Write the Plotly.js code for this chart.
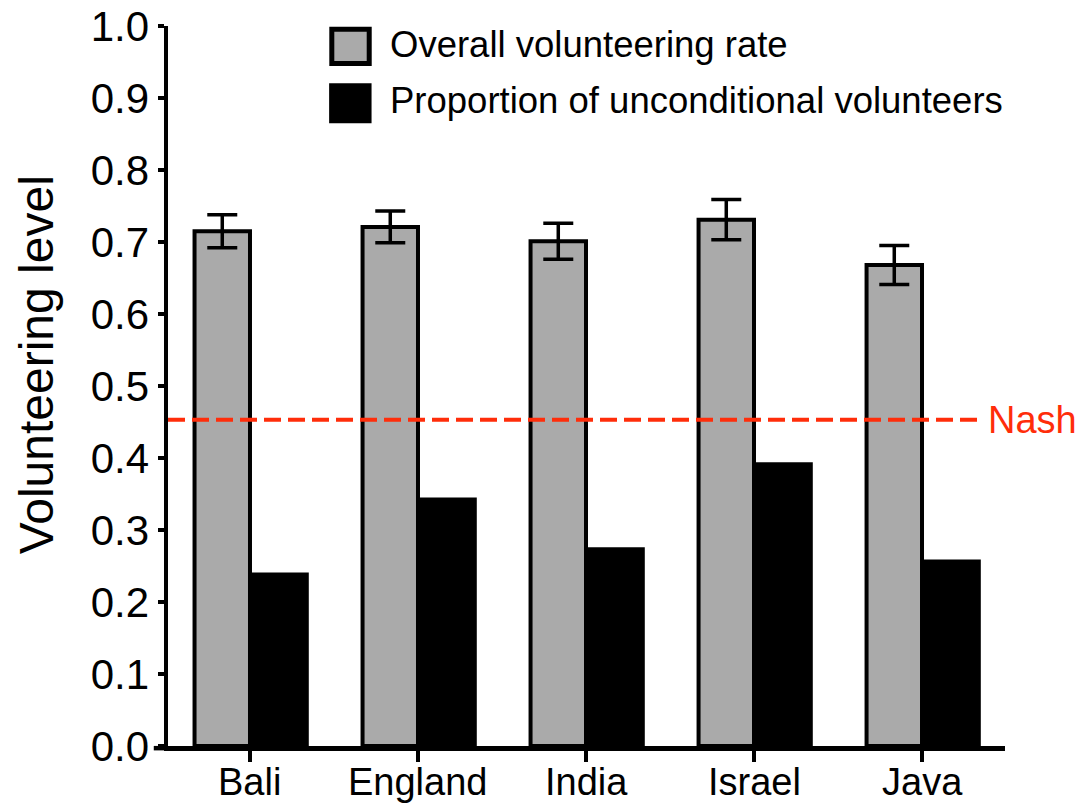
<!DOCTYPE html>
<html>
<head>
<meta charset="utf-8">
<script src="https://cdn.plot.ly/plotly-3.0.1.min.js"></script>
<style>
  html, body { margin: 0; padding: 0; background: #ffffff; }
  #chart { width: 1079px; height: 804px; }
</style>
</head>
<body>
<div id="chart"></div>
<script>
// Volunteering levels by site
const countries = ['Bali', 'England', 'India', 'Israel', 'Java'];
const overallRate = [0.715, 0.721, 0.701, 0.731, 0.668];
const overallErr = [0.023, 0.022, 0.025, 0.028, 0.027];
const unconditional = [0.241, 0.345, 0.276, 0.394, 0.259];
const nashLevel = 0.453;
const yTicks = [0, 0.1, 0.2, 0.3, 0.4, 0.5, 0.6, 0.7, 0.8, 0.9, 1.0];

const seriesNames = ['Overall volunteering rate', 'Proportion of unconditional volunteers'];
const FONT = 'Liberation Sans, Arial, Helvetica, sans-serif';
const NASH_COLOR = '#ff2d0a';

const traces = [
  {
    type: 'bar',
    name: seriesNames[0],
    x: countries,
    y: overallRate,
    offset: -0.33,
    width: 0.33,
    marker: { color: '#aaaaaa', line: { color: '#000000', width: 4 } },
    error_y: { type: 'data', array: overallErr, visible: true, color: '#000000', thickness: 3.5, width: 15 },
    showlegend: false
  },
  {
    type: 'bar',
    name: seriesNames[1],
    x: countries,
    y: unconditional,
    offset: 0,
    width: 0.35,
    marker: { color: '#000000', line: { width: 0 } },
    showlegend: false
  }
];

// category labels sit close under the axis ticks
const categoryLabels = countries.map(c => ({
  text: c, xref: 'x', yref: 'paper', x: c, y: -0.0175,
  xanchor: 'center', yanchor: 'top', showarrow: false,
  font: { family: FONT, size: 38, color: '#000000' }
}));

const layout = {
  width: 1079,
  height: 804,
  paper_bgcolor: '#ffffff',
  plot_bgcolor: '#ffffff',
  margin: { l: 168, r: 74, t: 26, b: 58 },
  barmode: 'overlay',
  font: { family: FONT, color: '#000000' },
  xaxis: {
    type: 'category',
    range: [-0.488, 4.494],
    showline: true,
    linecolor: '#000000',
    linewidth: 4.5,
    ticks: 'outside',
    ticklen: 11,
    tickwidth: 4,
    tickcolor: '#000000',
    showticklabels: false,
    showgrid: false,
    zeroline: false,
    fixedrange: true
  },
  yaxis: {
    range: [0, 1],
    tickvals: yTicks,
    tickformat: '.1f',
    showline: true,
    linecolor: '#000000',
    linewidth: 4.5,
    ticks: 'outside',
    ticklen: 6,
    tickwidth: 4,
    tickcolor: '#000000',
    showgrid: false,
    zeroline: false,
    tickfont: { family: FONT, size: 42, color: '#000000' },
    fixedrange: true
  },
  shapes: [
    // short run of the baseline left of the y axis
    {
      type: 'line', xref: 'paper', yref: 'paper',
      x0: -0.017, x1: 0, y0: -0.003, y1: -0.003,
      line: { color: '#000000', width: 4.5 }
    },
    // Nash equilibrium reference
    {
      type: 'line', xref: 'paper', yref: 'y',
      x0: 0, x1: 0.970, y0: nashLevel, y1: nashLevel,
      line: { color: NASH_COLOR, width: 4, dash: '17px,7px' }
    },
    // legend swatches
    {
      type: 'rect', xref: 'paper', yref: 'paper',
      x0: 0.1957, x1: 0.2404, y0: 0.948, y1: 0.9956,
      fillcolor: '#aaaaaa', line: { color: '#000000', width: 5 }
    },
    {
      type: 'rect', xref: 'paper', yref: 'paper',
      x0: 0.1925, x1: 0.2432, y0: 0.8649, y1: 0.9204,
      fillcolor: '#000000', line: { width: 0 }
    }
  ],
  annotations: [
    {
      text: 'Nash', xref: 'paper', yref: 'y', x: 0.977, y: nashLevel,
      xanchor: 'left', yanchor: 'middle', showarrow: false,
      font: { family: FONT, size: 38, color: NASH_COLOR }
    },
    {
      text: seriesNames[0], xref: 'paper', yref: 'paper', x: 0.2628, y: 0.974,
      xanchor: 'left', yanchor: 'middle', showarrow: false,
      font: { family: FONT, size: 36.5, color: '#000000' }
    },
    {
      text: seriesNames[1], xref: 'paper', yref: 'paper', x: 0.2628, y: 0.897,
      xanchor: 'left', yanchor: 'middle', showarrow: false,
      font: { family: FONT, size: 36.5, color: '#000000' }
    },
    {
      text: 'Volunteering level', xref: 'paper', yref: 'paper', x: -0.1577, y: 0.529,
      xanchor: 'center', yanchor: 'middle', textangle: -90, showarrow: false,
      font: { family: FONT, size: 48, color: '#000000' }
    }
  ].concat(categoryLabels)
};

Plotly.newPlot('chart', traces, layout, { displayModeBar: false, staticPlot: true });
</script>
</body>
</html>
